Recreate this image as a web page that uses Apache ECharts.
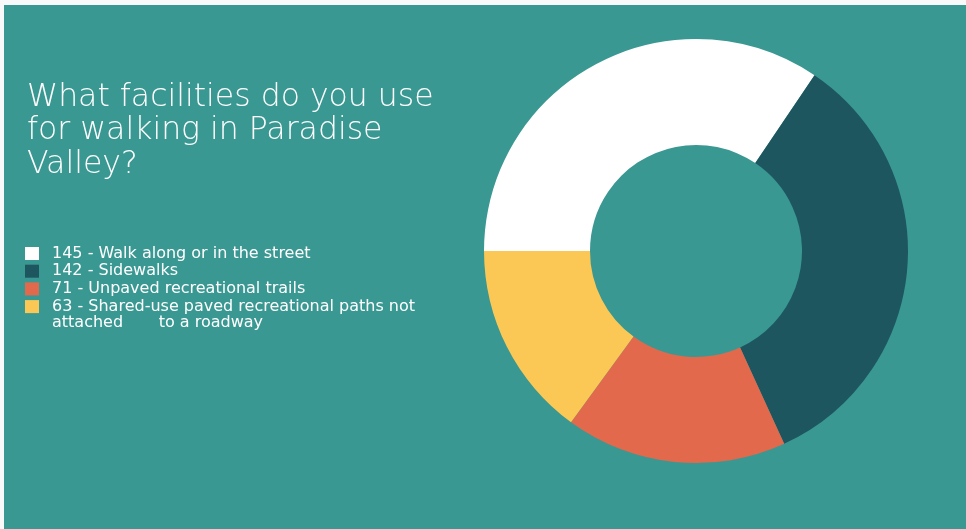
<!DOCTYPE html>
<html>
<head>
<meta charset="utf-8">
<script src="https://cdn.jsdelivr.net/npm/echarts@6/dist/echarts.min.js"></script>
<style>
  html, body { margin: 0; padding: 0; background: #f9f9f9; }
  #chart { width: 966px; height: 529px; }
</style>
</head>
<body>
<div id="chart"></div>
<script>
const titleLines = ['What facilities do you use', 'for walking in Paradise', 'Valley?'];
const categories = ['Walk along or in the street', 'Sidewalks', 'Unpaved recreational trails', 'Shared-use paved recreational paths not\nattached       to a roadway'];
const counts = [145, 142, 71, 63];
const colors = ['#ffffff', '#1e5660', '#e2694b', '#fcc855'];

const chart = echarts.init(document.getElementById('chart'));
const pieData = categories.map((c, i) => ({ name: c, value: counts[i], itemStyle: { color: colors[i] } }));
const countByName = {};
categories.forEach((c, i) => { countByName[c] = counts[i]; });
const wrapped = categories.filter(c => c.indexOf('\n') >= 0);

chart.setOption({
  backgroundColor: '#f9f9f9',
  animation: false,
  graphic: [{
    type: 'rect', z: -10, silent: true,
    shape: { x: 4, y: 5, width: 962, height: 524 },
    style: { fill: '#3a9893' }
  }].concat(wrapped.map(c => ({
    type: 'text', silent: true, z: 10,
    left: 52, top: 315,
    style: { text: c.split('\n')[1], fill: '#ffffff', font: 'normal 16px "DejaVu Sans"' }
  }))),
  title: {
    text: titleLines.join('\n'),
    left: 22, top: 76,
    textStyle: { color: '#ffffff', fontFamily: 'DejaVu Sans', fontWeight: 200, fontSize: 31.5, lineHeight: 33.5 }
  },
  legend: {
    orient: 'vertical',
    left: 20, top: 240,
    icon: 'rect',
    itemWidth: 14, itemHeight: 13, itemGap: 0.7,
    selectedMode: false,
    data: categories,
    formatter: name => countByName[name] + ' - ' + name.split('\n')[0],
    textStyle: { color: '#ffffff', fontFamily: 'DejaVu Sans', fontWeight: 'normal', fontSize: 16, lineHeight: 17, padding: [0, 0, 0, 8] }
  },
  series: [{
    type: 'pie',
    center: [696, 251],
    radius: [106, 212],
    startAngle: 180,
    clockwise: true,
    label: { show: false },
    labelLine: { show: false },
    emphasis: { disabled: true },
    itemStyle: { borderWidth: 0 },
    data: pieData
  }]
});
</script>
</body>
</html>
